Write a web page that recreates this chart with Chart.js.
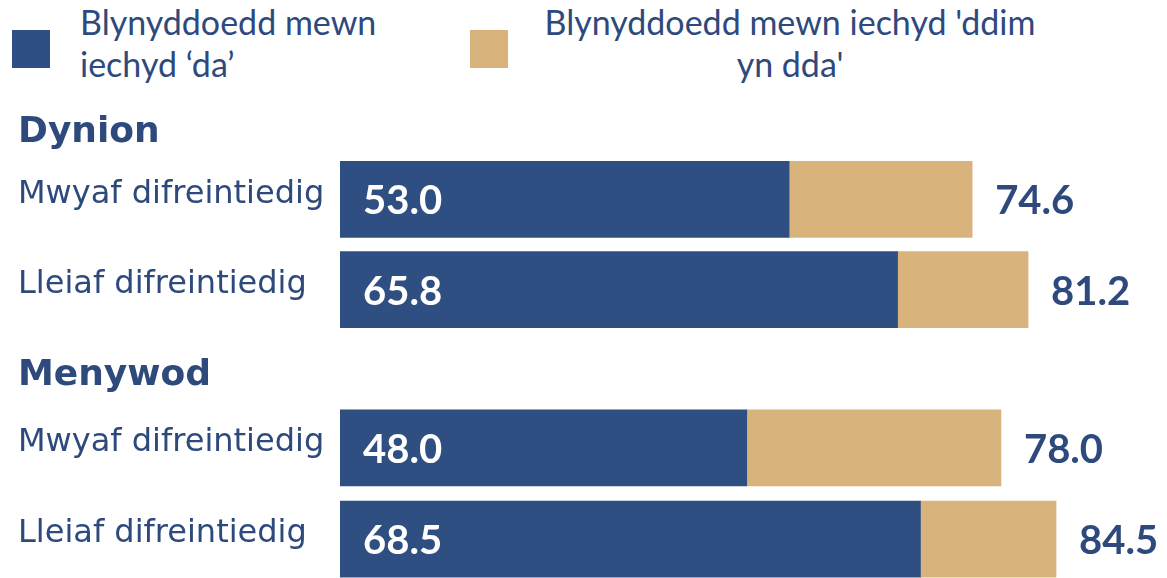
<!DOCTYPE html>
<html>
<head>
<meta charset="utf-8">
<script src="https://cdn.jsdelivr.net/npm/chart.js@4"></script>
<style>
  html, body { margin: 0; padding: 0; background: #fff; }
  body { width: 1167px; height: 578px; position: relative; overflow: hidden; }
  .sw { position: absolute; width: 38px; height: 38px; top: 30px; }
  .lt { position: absolute; top: 1px; font: 34px/42px Lato, sans-serif; color: #2e4a7d; white-space: nowrap; }
  .box { position: absolute; left: 0; width: 1167px; }
</style>
</head>
<body>
<div class="sw" style="left:12px;background:#2f4f82"></div>
<div class="lt" style="left:80px">Blynyddoedd mewn<br>iechyd ‘da’</div>
<div class="sw" style="left:470px;background:#d8b37b"></div>
<div class="lt" style="left:520px;width:540px;text-align:center">Blynyddoedd mewn iechyd 'ddim<br>yn dda'</div>

<div class="box" style="top:101px;height:256px"><canvas id="men"></canvas></div>
<div class="box" style="top:344px;height:263px"><canvas id="women"></canvas></div>

<script>
const groups = ['Dynion', 'Menywod'];
const categories = ['Mwyaf difreintiedig', 'Lleiaf difreintiedig'];
const seriesNames = ["Blynyddoedd mewn iechyd ‘da’", "Blynyddoedd mewn iechyd 'ddim yn dda'"];

// years in good health, and total life expectancy
const menGood = [53.0, 65.8];
const menTotal = [74.6, 81.2];
const womenGood = [48.0, 68.5];
const womenTotal = [78.0, 84.5];

const navy = '#2f4f82';
const tan = '#d8b37b';
const textNavy = '#2e4a7d';

const valueLabels = {
  id: 'valueLabels',
  afterDatasetsDraw(chart) {
    const ctx = chart.ctx;
    const good = chart.getDatasetMeta(0).data;
    const rest = chart.getDatasetMeta(1).data;
    const totals = chart.options.plugins.valueLabels.totals;
    ctx.save();
    ctx.font = 'bold 40px Lato, sans-serif';
    ctx.textBaseline = 'middle';
    ctx.textAlign = 'left';
    good.forEach((bar, i) => {
      ctx.fillStyle = '#fff';
      ctx.fillText(chart.data.datasets[0].data[i].toFixed(1), bar.base + 23, bar.y + 2);
    });
    rest.forEach((bar, i) => {
      ctx.fillStyle = textNavy;
      ctx.fillText(totals[i].toFixed(1), bar.x + 23, bar.y + 2);
    });
    ctx.restore();
  }
};

function makeChart(id, title, good, total, gapBelowTitle) {
  const notGood = total.map((t, i) => +(t - good[i]).toFixed(1));
  return new Chart(document.getElementById(id), {
    type: 'bar',
    data: {
      labels: categories,
      datasets: [
        { label: seriesNames[0], data: good, backgroundColor: navy, barThickness: 76 },
        { label: seriesNames[1], data: notGood, backgroundColor: tan, barThickness: 76 }
      ]
    },
    options: {
      indexAxis: 'y',
      responsive: true,
      maintainAspectRatio: false,
      animation: false,
      layout: { padding: { left: 18, right: 22 } },
      plugins: {
        legend: { display: false },
        tooltip: { enabled: false },
        title: {
          display: true,
          text: title,
          align: 'start',
          color: textNavy,
          font: { family: 'DejaVu Sans', size: 36, weight: 'bold', lineHeight: 1.2 },
          padding: { top: 10, bottom: gapBelowTitle }
        },
        valueLabels: { totals: total }
      },
      scales: {
        x: { stacked: true, display: false, min: 0, max: 95 },
        y: {
          stacked: true,
          grid: { display: false },
          border: { display: false },
          afterFit: (scale) => { scale.width = 322; },
          ticks: {
            crossAlign: 'far',
            labelOffset: -5,
            color: textNavy,
            font: { family: 'DejaVu Sans', size: 32 }
          }
        }
      }
    },
    plugins: [valueLabels]
  });
}

makeChart('men', groups[0], menGood, menTotal, 0);
makeChart('women', groups[1], womenGood, womenTotal, 5);
</script>
</body>
</html>
